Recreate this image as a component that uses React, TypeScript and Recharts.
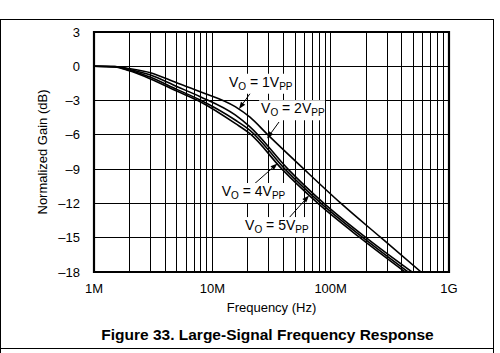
import React from 'react';
import {
  LineChart,
  Line,
  XAxis,
  YAxis,
  CartesianGrid,
  ReferenceArea,
  ReferenceLine,
  ReferenceDot,
} from 'recharts';

// ---- data (frequency in MHz, gain in dB) ----
const freq1V = [1, 1.5, 2, 3, 5, 7.9, 15.6, 20.8, 29.5, 59.5, 122.3, 266.3, 581];
const gain1V = [0, -0.02, -0.2, -0.56, -1.45, -2.22, -3.53, -4.45, -6, -9, -12, -15, -18];

const freq2V = [1, 1.5, 2, 3, 5, 7.9, 15.6, 20.8, 43.6, 87.8, 198.9, 487];
const gain2V = [0, -0.03, -0.28, -0.76, -1.77, -2.66, -4.26, -5.3, -9, -12, -15, -18];

const freq4V = [1, 1.5, 2, 3, 5, 7.9, 15.6, 20.8, 41.1, 82.9, 187.7, 451];
const gain4V = [0, -0.04, -0.35, -0.96, -2.02, -2.95, -4.7, -5.6, -9, -12, -15, -18];

const freq5V = [1, 1.5, 2, 3, 5, 7.9, 15.6, 20.8, 38.8, 78.2, 177, 425];
const gain5V = [0, -0.05, -0.4, -1.11, -2.17, -3.1, -5.0, -5.9, -9, -12, -15, -18];

const gridFreqs = [1, 2, 3, 4, 5, 6, 7, 8, 9, 10, 20, 30, 40, 50, 60, 70, 80, 90, 100, 200, 300, 400, 500, 600, 700, 800, 900, 1000];
const xTickLabels: Record<number, string> = { 1: '1M', 10: '10M', 100: '100M', 1000: '1G' };
const yTicks = [3, 0, -3, -6, -9, -12, -15, -18];

// annotation labels (anchor at text start / baseline) and arrows, in data coords
const labelNames = ['1', '2', '4', '5'];
const labelAnchors = [
  [13.83, -1.79],
  [25.8, -4.11],
  [12.0, -11.35],
  [18.9, -14.33],
];
const arrowTails = [
  [21.6, -2.16],
  [36.6, -4.875],
  [22.1, -10.39],
  [43.6, -13.36],
];
const arrowTips = [
  [16.8, -3.74],
  [29.0, -6.32],
  [35.5, -8.51],
  [65.6, -11.31],
];

const FONT = '"Liberation Sans", Arial, Helvetica, sans-serif';

const toPoints = (f: number[], g: number[]) => f.map((x, i) => ({ f: x, g: g[i] }));

const series = [
  toPoints(freq1V, gain1V),
  toPoints(freq2V, gain2V),
  toPoints(freq4V, gain4V),
  toPoints(freq5V, gain5V),
];

const fmtY = (v: number) => (v < 0 ? '\u2013' + Math.abs(v) : String(v));
const fmtX = (v: number) => xTickLabels[v] ?? '';

const ArrowShape = (props: any) => {
  const { x1, y1, x2, y2 } = props;
  if ([x1, y1, x2, y2].some((v) => typeof v !== 'number' || isNaN(v))) return <g />;
  const dx = x2 - x1;
  const dy = y2 - y1;
  const len = Math.sqrt(dx * dx + dy * dy) || 1;
  const ux = dx / len;
  const uy = dy / len;
  const hl = 7;
  const hw = 2.6;
  const bx = x2 - ux * hl;
  const by = y2 - uy * hl;
  return (
    <g>
      <line x1={x1} y1={y1} x2={bx} y2={by} stroke="#000" strokeWidth={1} />
      <polygon
        points={`${x2},${y2} ${bx - uy * hw},${by + ux * hw} ${bx + uy * hw},${by - ux * hw}`}
        fill="#000"
      />
    </g>
  );
};

const makeLabelShape = (n: string) => (props: any) => {
  const { cx, cy } = props;
  if (typeof cx !== 'number' || typeof cy !== 'number') return <g />;
  return (
    <g>
      <rect x={cx - 2} y={cy - 13} width={66} height={20} fill="#fff" />
      <text x={cx} y={cy} fontSize={14} fill="#000" fontFamily={FONT}>
        V
        <tspan fontSize={10} dy={3}>O</tspan>
        <tspan dy={-3}>{' = ' + n + 'V'}</tspan>
        <tspan fontSize={10} dy={3}>PP</tspan>
      </text>
    </g>
  );
};

const YLabel = (props: any) => {
  const vb = props.viewBox || {};
  const cy = (vb.y ?? 32) + (vb.height ?? 240) / 2;
  const x = 46.5;
  return (
    <text
      x={x}
      y={cy}
      transform={`rotate(-90, ${x}, ${cy})`}
      textAnchor="middle"
      fontSize={13}
      fill="#000"
      fontFamily={FONT}
    >
      Normalized Gain (dB)
    </text>
  );
};

export default function App() {
  return (
    <div style={{ position: 'absolute', left: 0, top: 0, width: 500, height: 353, background: '#fff', overflow: 'hidden' }}>
      <style>{`.recharts-cartesian-grid line { shape-rendering: crispEdges; }`}</style>
      {/* outer frame */}
      <div style={{ position: 'absolute', left: 0, top: 19, width: 494, height: 330, border: '1px solid #000', boxSizing: 'border-box' }} />
      <div style={{ position: 'absolute', left: 0, top: 348, width: 1, height: 5, background: '#000' }} />
      <div style={{ position: 'absolute', left: 493, top: 348, width: 1, height: 5, background: '#000' }} />
      <div style={{ position: 'absolute', left: 0, top: 0 }}>
        <LineChart width={500} height={353} margin={{ top: 32, right: 51, bottom: 51, left: 0 }}>
          <CartesianGrid stroke="#000" strokeWidth={1} />
          <XAxis
            dataKey="f"
            type="number"
            scale="log"
            domain={[1, 1000]}
            ticks={gridFreqs}
            interval={0}
            allowDataOverflow
            tickFormatter={fmtX}
            tickLine={false}
            axisLine={false}
            tickSize={0}
            tickMargin={12}
            height={30}
            tick={{ fill: '#000', fontSize: 13, fontFamily: FONT }}
            label={{ value: 'Frequency (Hz)', position: 'bottom', offset: 1, fill: '#000', fontSize: 13, fontFamily: FONT }}
          />
          <YAxis
            type="number"
            domain={[-18, 3]}
            ticks={yTicks}
            interval={0}
            allowDataOverflow
            tickFormatter={fmtY}
            tickLine={false}
            axisLine={false}
            tickSize={0}
            tickMargin={14}
            width={94}
            tick={{ fill: '#000', fontSize: 13, fontFamily: FONT }}
            label={<YLabel />}
          />
          {labelNames.map((n, i) => (
            <ReferenceDot
              key={'lab' + n}
              x={labelAnchors[i][0]}
              y={labelAnchors[i][1]}
              r={1}
              shape={makeLabelShape(n)}
            />
          ))}
          {labelNames.map((n, i) => (
            <ReferenceLine
              key={'arr' + n}
              segment={[
                { x: arrowTails[i][0], y: arrowTails[i][1] },
                { x: arrowTips[i][0], y: arrowTips[i][1] },
              ]}
              stroke="#000"
              shape={ArrowShape}
            />
          ))}
          {series.map((pts, i) => (
            <Line
              key={'s' + i}
              data={pts}
              dataKey="g"
              type="monotone"
              stroke="#000"
              strokeWidth={1.6}
              dot={false}
              activeDot={false}
              isAnimationActive={false}
            />
          ))}
          <ReferenceArea x1={1} x2={1000} y1={-18} y2={3} fill="none" stroke="#000" strokeWidth={2.2} fillOpacity={0} />
        </LineChart>
      </div>
      <div
        style={{
          position: 'absolute',
          left: 0,
          top: 326.6,
          width: 535,
          textAlign: 'center',
          fontFamily: FONT,
          fontWeight: 'bold',
          fontSize: 15.5,
          lineHeight: '16px',
          color: '#000',
          whiteSpace: 'nowrap',
        }}
      >
        Figure 33. Large-Signal Frequency Response
      </div>
    </div>
  );
}
